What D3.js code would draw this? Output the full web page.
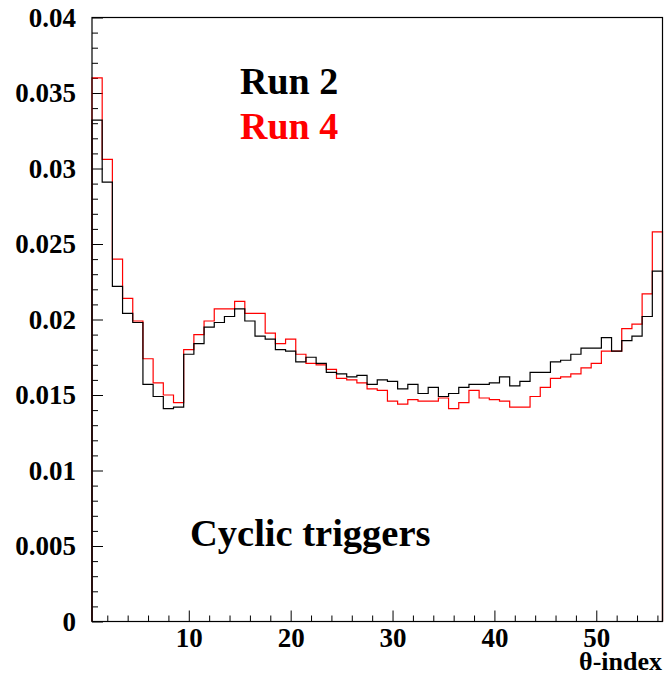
<!DOCTYPE html>
<html>
<head>
<meta charset="utf-8">
<script src="https://cdn.jsdelivr.net/npm/d3@7"></script>
<style>
  body { margin: 0; background: #fff; }
  text { font-family: "Liberation Serif", "Times New Roman", serif; font-weight: bold; }
</style>
</head>
<body>
<div id="chart-area"></div>
<script>
// theta-index bins 1..56, normalised counts
var run2 = [0.0332, 0.0291, 0.0222, 0.0204, 0.0198, 0.0157, 0.0149, 0.0141, 0.0142, 0.0177,
            0.0184, 0.0195, 0.0198, 0.0202, 0.0207, 0.0199, 0.0189, 0.0187, 0.0180, 0.0179,
            0.0172, 0.0175, 0.0171, 0.0165, 0.0164, 0.0162, 0.0163, 0.0157, 0.0160, 0.0159,
            0.0154, 0.0157, 0.0151, 0.0155, 0.0149, 0.0151, 0.0155, 0.0157, 0.0157, 0.0158,
            0.0162, 0.0156, 0.0159, 0.0165, 0.0165, 0.0172, 0.0173, 0.0177, 0.0181, 0.0181,
            0.0188, 0.0179, 0.0186, 0.0189, 0.0202, 0.0232];

var run4 = [0.0360, 0.0306, 0.0240, 0.0214, 0.0199, 0.0174, 0.0158, 0.0150, 0.0145, 0.0180,
            0.0190, 0.0199, 0.0207, 0.0207, 0.0212, 0.0204, 0.0204, 0.0191, 0.0184, 0.0187,
            0.0177, 0.0171, 0.0170, 0.0167, 0.0161, 0.0160, 0.0158, 0.0154, 0.0153, 0.0146,
            0.0144, 0.0147, 0.0146, 0.0146, 0.0148, 0.0141, 0.0145, 0.0153, 0.0148, 0.0147,
            0.0146, 0.0142, 0.0142, 0.0149, 0.0155, 0.0161, 0.0162, 0.0164, 0.0168, 0.0171,
            0.0179, 0.0179, 0.0194, 0.0197, 0.0217, 0.0258];

var xMajor = [10, 20, 30, 40, 50];
var yMajor = [0, 0.005, 0.01, 0.015, 0.02, 0.025, 0.03, 0.035, 0.04];
var yLabels = ["0", "0.005", "0.01", "0.015", "0.02", "0.025", "0.03", "0.035", "0.04"];

var width = 665, height = 673;
var frameLeft = 92, frameRight = 662.5, frameTop = 17.5, frameBottom = 621.5;

var svg = d3.select("#chart-area").append("svg")
    .attr("width", width)
    .attr("height", height);

var x = d3.scaleLinear().domain([0.5, 56.5]).range([frameLeft, frameRight]);
var y = d3.scaleLinear().domain([0, 0.04]).range([frameBottom, frameTop]);

// minor ticks
var xMinor = d3.range(2, 57, 2).filter(function(d) { return d % 10 !== 0; });
var yMinor = d3.range(0, 41).map(function(d) { return d / 1000; })
    .filter(function(d, i) { return i % 5 !== 0; });

var gxMinor = svg.append("g")
    .attr("transform", "translate(0," + frameBottom + ")")
    .call(d3.axisBottom(x).tickValues(xMinor).tickSize(-6).tickFormat(""));
var gyMinor = svg.append("g")
    .attr("transform", "translate(" + frameLeft + ",0)")
    .call(d3.axisLeft(y).tickValues(yMinor).tickSize(-6).tickFormat(""));

var gx = svg.append("g")
    .attr("transform", "translate(0," + frameBottom + ")")
    .call(d3.axisBottom(x).tickValues(xMajor).tickSize(-11).tickPadding(6));
var gy = svg.append("g")
    .attr("transform", "translate(" + frameLeft + ",0)")
    .call(d3.axisLeft(y).tickValues(yMajor).tickSize(-11).tickPadding(16)
        .tickFormat(function(d, i) { return yLabels[i]; }));

[gxMinor, gyMinor, gx, gy].forEach(function(g) {
    g.select(".domain").remove();
    g.selectAll("line").attr("stroke", "#000").attr("stroke-width", 1);
});
gx.selectAll("text").attr("font-size", 27).attr("fill", "#000");
gy.selectAll("text").attr("font-size", 27).attr("fill", "#000");

// step outline of a histogram, closed down to zero at both ends
function stepPoints(vals) {
    var pts = [[x(0.5), y(0)]];
    vals.forEach(function(v, i) {
        pts.push([x(i + 0.5), y(v)]);
        pts.push([x(i + 1.5), y(v)]);
    });
    pts.push([x(56.5), y(0)]);
    return pts;
}

var line = d3.line();

svg.append("path")
    .attr("d", line(stepPoints(run4)))
    .attr("fill", "none")
    .attr("stroke", "#ff0000")
    .attr("stroke-width", 1.2);

svg.append("path")
    .attr("d", line(stepPoints(run2)))
    .attr("fill", "none")
    .attr("stroke", "#000")
    .attr("stroke-width", 1.2);

// frame
svg.append("rect")
    .attr("x", frameLeft)
    .attr("y", frameTop)
    .attr("width", frameRight - frameLeft)
    .attr("height", frameBottom - frameTop)
    .attr("fill", "none")
    .attr("stroke", "#000")
    .attr("stroke-width", 1.2);

svg.append("text")
    .attr("x", 240).attr("y", 94)
    .attr("font-size", 38)
    .attr("fill", "#000")
    .text("Run 2");

svg.append("text")
    .attr("x", 240).attr("y", 139)
    .attr("font-size", 38)
    .attr("fill", "#ff0000")
    .text("Run 4");

svg.append("text")
    .attr("x", 190).attr("y", 546)
    .attr("font-size", 38.5)
    .attr("fill", "#000")
    .text("Cyclic triggers");

svg.append("text")
    .attr("x", 662).attr("y", 670)
    .attr("text-anchor", "end")
    .attr("font-size", 26)
    .attr("fill", "#000")
    .text("θ-index");
</script>
</body>
</html>
